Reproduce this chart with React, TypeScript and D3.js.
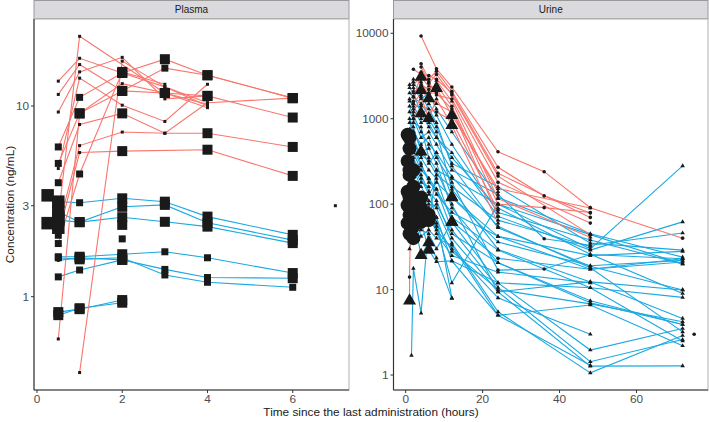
import React from "react";
import * as d3 from "d3";

// [time (h), concentration (ng/mL), size level, shape code (0 circle, 1 triangle, 2 square)]
const plasmaRed = [
  [[0.5, 13.5, 1, 2], [1, 17.8, 1, 2], [2, 14.9, 3, 2], [3, 12.6, 1, 2], [4, 10.4, 1, 2], [6, 11.0, 3, 2]],
  [[0.5, 11.5, 1, 2], [1, 16.5, 1, 2], [2, 12.0, 3, 2], [3, 11.7, 3, 2], [4, 9.8, 1, 2]],
  [[0.5, 9.3, 1, 2], [1, 15.1, 1, 2], [2, 18.0, 1, 2], [3, 10.9, 1, 2], [4, 11.3, 3, 2], [6, 8.7, 3, 2]],
  [[0.5, 6.1, 2, 2], [1, 11.1, 2, 2], [2, 14.9, 3, 2], [3, 17.6, 3, 2], [4, 14.5, 3, 2], [6, 11.0, 3, 2]],
  [[0.5, 5.0, 2, 2], [1, 9.15, 3, 2], [2, 12.0, 3, 2], [3, 15.8, 2, 2], [4, 14.5, 3, 2], [6, 11.0, 3, 2]],
  [[0.5, 4.7, 1, 2], [1, 14.0, 1, 2], [2, 10.1, 1, 2], [3, 8.3, 1, 2], [4, 13.0, 1, 2]],
  [[0.5, 3.96, 2, 2], [1, 8.0, 1, 2], [2, 9.15, 3, 2], [3, 7.2, 1, 2], [4, 7.2, 3, 2], [6, 6.1, 3, 2]],
  [[0.5, 2.6, 4, 2], [1, 23.2, 1, 2], [3, 11.7, 3, 2], [4, 10.2, 1, 2]],
  [[0.5, 2.3, 4, 2], [1, 6.2, 1, 2], [2, 7.3, 1, 2], [3, 7.2, 1, 2], [4, 10.4, 1, 2]],
  [[0.5, 2.1, 2, 2], [1, 5.7, 1, 2], [2, 5.8, 3, 2], [4, 5.9, 3, 2], [6, 4.3, 3, 2]],
  [[0.5, 0.6, 1, 2], [1, 9.15, 3, 2], [2, 13.1, 1, 2], [3, 11.7, 3, 2], [4, 11.3, 3, 2]],
  [[1, 0.4, 1, 2], [2, 17.2, 1, 2], [3, 12.6, 1, 2], [4, 10.0, 1, 2]],
  [[0.5, 1.9, 2, 2], [1, 4.4, 2, 2], [2, 15.1, 3, 2], [3, 13.0, 1, 2]],
];

const plasmaBlue = [
  [[0.25, 3.4, 4, 2], [0.5, 3.15, 4, 2], [1, 3.11, 2, 2], [2, 3.28, 3, 2], [3, 3.15, 3, 2], [4, 2.63, 3, 2], [6, 2.11, 3, 2]],
  [[0.25, 2.43, 4, 2], [0.5, 2.79, 4, 2], [1, 2.46, 3, 2], [2, 2.96, 3, 2], [3, 3.03, 3, 2], [4, 2.44, 3, 2], [6, 1.98, 3, 2]],
  [[0.5, 2.52, 4, 2], [1, 2.46, 3, 2], [2, 2.61, 3, 2], [3, 2.47, 3, 2], [4, 2.33, 3, 2], [6, 1.91, 3, 2]],
  [[0.5, 1.62, 2, 2], [1, 1.62, 3, 2], [2, 1.67, 3, 2], [3, 1.72, 2, 2], [4, 1.6, 2, 2], [6, 1.33, 3, 2]],
  [[0.5, 1.55, 1, 2], [1, 1.6, 3, 2], [2, 1.56, 3, 2], [3, 1.39, 2, 2], [4, 1.26, 2, 2], [6, 1.25, 3, 2]],
  [[0.5, 1.6, 2, 2], [1, 1.57, 3, 2], [2, 1.6, 3, 2], [3, 1.3, 2, 2], [4, 1.19, 2, 2], [6, 1.12, 2, 2]],
  [[0.5, 1.27, 2, 2], [1, 1.38, 2, 2], [2, 1.56, 3, 2]],
  [[0.5, 0.83, 3, 2], [1, 0.86, 3, 2], [2, 0.96, 3, 2]],
  [[0.5, 0.8, 3, 2], [1, 0.87, 3, 2], [2, 0.93, 3, 2]],
  [[2, 2.38, 3, 2]],
  [[2, 2.01, 2, 2]],
];

const plasmaExtra = [[7, 3, 1, 2]];

const urineRed = [
  [[4, 9300, 1, 0], [8, 3840, 1, 0], [12, 2350, 1, 0], [24, 410, 1, 0], [36, 240, 1, 0], [48, 91, 1, 0], [72, 40, 1, 0]],
  [[4, 4400, 1, 0], [6, 2900, 1, 0], [8, 3600, 1, 0], [12, 2100, 1, 0], [24, 270, 1, 0], [36, 125, 1, 0], [48, 79, 1, 0]],
  [[4, 4030, 1, 0], [6, 2600, 1, 0], [8, 3300, 1, 0], [12, 1900, 1, 0], [24, 213, 1, 0], [48, 44, 1, 0]],
  [[2, 2500, 1, 1], [4, 3070, 3, 1], [6, 2400, 1, 1], [8, 2270, 3, 1], [12, 1100, 3, 1], [24, 152, 1, 1], [48, 90, 1, 1]],
  [[2, 2100, 1, 1], [4, 2160, 3, 1], [6, 1730, 3, 1], [8, 2800, 1, 1], [12, 1600, 1, 1], [24, 116, 1, 1], [48, 41, 1, 1]],
  [[2, 1800, 1, 0], [4, 2500, 1, 0], [6, 2200, 1, 0], [8, 2500, 1, 0], [12, 1400, 1, 0], [24, 100, 1, 0], [36, 91, 1, 0], [48, 80, 1, 0]],
  [[2, 1500, 1, 0], [4, 2000, 1, 0], [6, 2000, 1, 0], [8, 2000, 1, 0], [12, 1300, 1, 0], [24, 72, 1, 0]],
  [[2, 1200, 1, 1], [4, 1800, 1, 1], [6, 1010, 3, 1], [8, 1700, 1, 1], [12, 840, 3, 1], [24, 60, 1, 1]],
  [[1, 7.4, 3, 1], [1, 14, 1, 0], [1.2, 45, 4, 0], [2, 1000, 1, 0], [4, 1400, 1, 0], [8, 1200, 1, 0], [12, 950, 1, 0], [24, 85, 1, 0]],
  [[2, 1600, 1, 0], [4, 3500, 1, 0], [6, 2700, 1, 0], [8, 1900, 1, 0], [12, 1700, 1, 0], [24, 180, 1, 0], [48, 60, 1, 0]],
  [[2, 3800, 1, 0], [4, 3300, 1, 0], [6, 3200, 1, 0], [8, 2900, 1, 0], [12, 2000, 1, 0], [24, 230, 1, 0], [48, 70, 1, 0]],
  [[2, 2900, 1, 1], [4, 2700, 1, 1], [6, 1900, 1, 1], [8, 1500, 1, 1], [12, 1200, 1, 1], [24, 140, 1, 1]],
];

const urineBlue = [
  [[1, 2500, 1, 1], [2, 2700, 1, 1], [4, 1900, 1, 1], [6, 1300, 1, 1], [8, 900, 1, 1], [12, 280, 1, 1], [24, 53, 1, 1], [48, 18.8, 1, 1], [72, 9.9, 1, 1]],
  [[1, 2300, 1, 1], [2, 2000, 1, 1], [4, 1150, 3, 1], [6, 800, 1, 1], [8, 600, 1, 1], [12, 400, 1, 1], [24, 72, 1, 1], [48, 29, 1, 1], [72, 62, 1, 1]],
  [[1, 1700, 1, 1], [2, 1300, 1, 1], [4, 900, 1, 1], [6, 1000, 1, 1], [8, 700, 1, 1], [12, 150, 1, 1], [24, 29.5, 1, 1], [48, 12.3, 1, 1], [72, 4.6, 1, 1]],
  [[1, 1400, 1, 1], [2, 1100, 1, 1], [4, 700, 1, 1], [6, 500, 1, 1], [8, 400, 1, 1], [12, 121, 3, 1], [24, 42, 1, 1], [48, 17.3, 1, 1], [72, 23, 1, 1]],
  [[1, 1000, 1, 1], [2, 800, 1, 1], [4, 410, 3, 1], [6, 450, 1, 1], [8, 300, 1, 1], [12, 90, 1, 1], [24, 20.6, 1, 1], [48, 7.4, 1, 1], [72, 3.9, 1, 1]],
  [[0.5, 650, 4, 0], [2, 600, 1, 1], [4, 350, 1, 1], [6, 250, 1, 1], [8, 200, 1, 1], [12, 62, 3, 1], [24, 12, 1, 1], [48, 1.96, 1, 1], [72, 3.5, 1, 1]],
  [[1, 450, 4, 0], [2, 500, 1, 1], [4, 300, 1, 1], [6, 180, 1, 1], [8, 150, 1, 1], [12, 50, 1, 1], [24, 10.6, 1, 1], [48, 1.43, 1, 1], [72, 2.6, 1, 1]],
  [[0.5, 320, 4, 0], [2, 350, 1, 1], [4, 220, 1, 1], [6, 140, 1, 1], [8, 110, 1, 1], [12, 40, 1, 1], [24, 9.4, 1, 1], [48, 1.27, 1, 1], [72, 1.28, 1, 1]],
  [[1, 220, 4, 0], [2, 250, 4, 0], [4, 160, 1, 1], [6, 110, 1, 1], [8, 90, 1, 1], [12, 35, 1, 1], [24, 5.5, 1, 1], [48, 1.06, 1, 1], [72, 2.9, 1, 1]],
  [[0.5, 140, 4, 0], [2, 160, 4, 0], [4, 120, 1, 1], [6, 90, 1, 1], [8, 70, 1, 1], [12, 21.7, 1, 1], [24, 5.0, 1, 1], [48, 6.6, 1, 1], [72, 2.2, 1, 1]],
  [[0.5, 97, 4, 0], [2, 110, 4, 0], [4, 90, 4, 0], [6, 75, 4, 0], [8, 55, 1, 1], [12, 12, 1, 1], [24, 100, 1, 1], [48, 44, 1, 1], [72, 20, 1, 1]],
  [[1, 75, 4, 0], [2, 70, 4, 0], [4, 25.3, 3, 1], [6, 35.5, 3, 1], [8, 23.5, 1, 1], [12, 7.9, 1, 1]],
  [[0.5, 60, 4, 0], [2, 55, 4, 0], [4, 62, 4, 0], [6, 29, 3, 1], [8, 21.2, 1, 1], [12, 21.7, 1, 1], [24, 12, 1, 1], [48, 10.5, 1, 1], [72, 8.1, 1, 1]],
  [[1.5, 1.7, 1, 1], [2, 17.7, 1, 1], [4, 5.3, 1, 1], [6, 60, 1, 1], [8, 250, 1, 1], [12, 200, 1, 1], [24, 100, 1, 1], [48, 30, 1, 1], [72, 280, 1, 1]],
  [[1, 45, 4, 0], [2, 40, 4, 0], [4, 50, 1, 1], [6, 45, 1, 1], [8, 30, 1, 1], [12, 62, 3, 1], [24, 23.2, 1, 0], [48, 17.3, 1, 1], [72, 21, 1, 1]],
  [[1, 2000, 1, 1], [2, 1800, 1, 1], [4, 1500, 1, 1], [6, 1100, 1, 1], [8, 800, 1, 1], [12, 300, 1, 1], [24, 160, 1, 1], [48, 35, 1, 1], [72, 29, 1, 1]],
  [[1, 1200, 1, 1], [2, 1000, 1, 1], [4, 600, 1, 1], [6, 700, 1, 1], [8, 500, 1, 1], [12, 250, 1, 1], [24, 130, 1, 1], [36, 39.4, 1, 0], [48, 33, 1, 1], [72, 46, 1, 1]],
  [[1, 900, 1, 1], [2, 700, 1, 1], [4, 500, 1, 1], [6, 600, 1, 1], [8, 350, 1, 1], [12, 180, 1, 1], [24, 16.9, 1, 0], [36, 17.4, 1, 0], [48, 25.7, 1, 1], [72, 23, 1, 1]],
  [[1, 750, 1, 1], [2, 900, 1, 1], [4, 800, 1, 1], [6, 350, 1, 1], [8, 250, 1, 1], [12, 100, 1, 1], [24, 9.4, 1, 1], [48, 12.3, 1, 1], [72, 9.9, 1, 1]],
  [[2, 1400, 1, 1], [4, 1000, 1, 1], [6, 1500, 1, 1], [8, 1100, 1, 1], [12, 500, 1, 1], [24, 80, 1, 1], [48, 38, 1, 1], [72, 20, 1, 1]],
  [[2, 700, 1, 1], [4, 450, 1, 1], [6, 300, 1, 1], [8, 400, 1, 1], [12, 210, 1, 1], [24, 55, 1, 1], [48, 18, 1, 1], [72, 3.2, 1, 1]],
  [[1, 550, 1, 1], [2, 450, 1, 1], [4, 280, 1, 1], [6, 200, 1, 1], [8, 150, 1, 1], [12, 70, 1, 1], [24, 29, 1, 1], [48, 10.5, 1, 1], [72, 2.5, 1, 1]],
  [[2, 300, 1, 1], [4, 200, 1, 1], [6, 130, 1, 1], [8, 180, 1, 1], [12, 120, 3, 1], [24, 36, 1, 1], [48, 19, 1, 1], [72, 22, 1, 1]],
  [[1, 180, 1, 1], [2, 120, 1, 1], [4, 75, 1, 1], [8, 100, 1, 1], [12, 45, 1, 1], [24, 20.6, 1, 1], [48, 7, 1, 1], [72, 3.9, 1, 1]],
  [[2, 85, 1, 1], [4, 42, 1, 1], [6, 50, 1, 1], [8, 40, 1, 1], [12, 33, 1, 1], [24, 5.0, 1, 1], [48, 1.3, 1, 1]],
  [[1, 30, 1, 1], [2, 45, 1, 1], [4, 60, 1, 1], [8, 70, 1, 1], [12, 8, 1, 1]],
  [[1, 600, 4, 0], [2, 400, 1, 1], [4, 250, 1, 1], [6, 200, 1, 1], [8, 130, 1, 1], [12, 80, 1, 1], [24, 42, 1, 1], [48, 25, 1, 1], [72, 28, 1, 1]],
  [[1, 250, 4, 0], [1.5, 300, 1, 1], [4, 180, 1, 1], [6, 160, 1, 1], [8, 60, 1, 1], [12, 28, 1, 1], [24, 10, 1, 1], [48, 6.8, 1, 1], [72, 4.2, 1, 1]],
  [[1.5, 140, 4, 0], [4, 120, 4, 0], [6, 100, 1, 1], [8, 45, 1, 1], [12, 25, 1, 1], [24, 16, 1, 1], [48, 12, 1, 1]],
  [[2, 2300, 1, 1], [4, 1700, 1, 1], [6, 2000, 1, 1], [8, 1300, 1, 1], [12, 700, 1, 1], [24, 120, 1, 1], [48, 45, 1, 1], [72, 24, 1, 1]],
  [[1, 1600, 1, 1], [2, 1500, 1, 1], [4, 1300, 1, 1], [6, 900, 1, 1], [8, 600, 1, 1], [12, 350, 1, 1], [24, 90, 1, 1], [48, 26, 1, 1], [72, 9, 1, 1]],
  [[2, 500, 1, 1], [4, 380, 1, 1], [6, 320, 1, 1], [8, 220, 1, 1], [12, 160, 1, 1], [24, 65, 1, 1], [48, 32, 1, 1]],
  [[1, 120, 4, 0], [2, 95, 4, 0], [6, 65, 4, 0], [8, 50, 1, 1], [12, 30, 1, 1], [24, 8, 1, 1], [48, 3, 1, 1]],
];

const urineExtra = [[75, 3, 1, 0]];

const plasmaYTicks = [1, 3, 10];
const plasmaXTicks = [0, 2, 4, 6];
const urineYTicks = [1, 10, 100, 1000, 10000];
const urineXTicks = [0, 20, 40, 60];

const RED = "#F8766D";
const BLUE = "#1AA9E1";
const FONT = "'Liberation Sans', Arial, Helvetica, sans-serif";

const squareSide = [0, 3, 7, 10, 12.5];
const circleR = [0, 1.8, 3.5, 5, 7];
const triSide = [0, 4.5, 7, 13, 15];

function Marker({ cx, cy, size, shape }) {
  const fill = "#1A1A1A";
  if (shape === 2) {
    const s = squareSide[size];
    return <rect x={cx - s / 2} y={cy - s / 2} width={s} height={s} fill={fill} />;
  }
  if (shape === 0) {
    return <circle cx={cx} cy={cy} r={circleR[size]} fill={fill} />;
  }
  const a = triSide[size];
  const h = (a * Math.sqrt(3)) / 2;
  const pts = `${cx},${cy - (2 * h) / 3} ${cx - a / 2},${cy + h / 3} ${cx + a / 2},${cy + h / 3}`;
  return <polygon points={pts} fill={fill} />;
}

function Panel({ title, x0, x1, y0, y1, xDomain, yDomain, xTicks, yTicks, red, blue, extra }) {
  const x = d3.scaleLinear().domain(xDomain).range([x0, x1]);
  const y = d3.scaleLog().domain(yDomain).range([y1, y0]);
  const line = d3
    .line()
    .x((d) => x(d[0]))
    .y((d) => y(d[1]));
  const all = [...red, ...blue].flat().concat(extra);
  return (
    <g>
      <rect x={x0} y={0.5} width={x1 - x0} height={y0 - 1} fill="#D9D9DE" stroke="#9A9A9A" strokeWidth={1} />
      <text x={(x0 + x1) / 2} y={13} textAnchor="middle" fontSize={10} fill="#1A1A1A" fontFamily={FONT}>
        {title}
      </text>
      <rect x={x0} y={y0} width={x1 - x0} height={y1 - y0} fill="#FFFFFF" stroke="#BDBDBD" strokeWidth={1.2} />
      <g>
        {blue.map((s, i) => (
          <path key={"b" + i} d={line(s)} fill="none" stroke={BLUE} strokeWidth={1.1} />
        ))}
        {red.map((s, i) => (
          <path key={"r" + i} d={line(s)} fill="none" stroke={RED} strokeWidth={1.1} />
        ))}
        {all.map((p, i) => (
          <Marker key={"p" + i} cx={x(p[0])} cy={y(p[1])} size={p[2]} shape={p[3]} />
        ))}
      </g>
      <line x1={x0} x2={x0} y1={y0} y2={y1} stroke="#333333" strokeWidth={1.1} />
      <line x1={x0} x2={x1} y1={y1} y2={y1} stroke="#333333" strokeWidth={1.1} />
      {yTicks.map((t) => (
        <g key={"yt" + t}>
          <line x1={x0 - 3} x2={x0} y1={y(t)} y2={y(t)} stroke="#333333" strokeWidth={1} />
          <text x={x0 - 5} y={y(t) + 4.2} textAnchor="end" fontSize={11.8} fill="#4D4D4D" fontFamily={FONT}>
            {t}
          </text>
        </g>
      ))}
      {xTicks.map((t) => (
        <g key={"xt" + t}>
          <line x1={x(t)} x2={x(t)} y1={y1} y2={y1 + 3} stroke="#333333" strokeWidth={1} />
          <text x={x(t)} y={y1 + 13} textAnchor="middle" fontSize={11.8} fill="#4D4D4D" fontFamily={FONT}>
            {t}
          </text>
        </g>
      ))}
    </g>
  );
}

export default function App() {
  return (
    <svg width={709} height={422} style={{ position: "absolute", left: 0, top: 0, background: "#fff" }}>
      <rect width={709} height={422} fill="#FFFFFF" />
      <Panel
        title="Plasma"
        x0={34}
        x1={349}
        y0={19}
        y1={390}
        xDomain={[-0.07, 7.32]}
        yDomain={[0.324, 28.6]}
        xTicks={plasmaXTicks}
        yTicks={plasmaYTicks}
        red={plasmaRed}
        blue={plasmaBlue}
        extra={plasmaExtra}
      />
      <Panel
        title="Urine"
        x0={393.5}
        x1={708}
        y0={19}
        y1={390}
        xDomain={[-3.17, 78.6]}
        yDomain={[0.668, 14700]}
        xTicks={urineXTicks}
        yTicks={urineYTicks}
        red={urineRed}
        blue={urineBlue}
        extra={urineExtra}
      />
      <text x={371} y={416} textAnchor="middle" fontSize={11.8} fill="#1A1A1A" fontFamily={FONT}>
        Time since the last administration (hours)
      </text>
      <text
        transform="translate(14,204.5) rotate(-90)"
        textAnchor="middle"
        fontSize={11.8}
        fill="#1A1A1A"
        fontFamily={FONT}
      >
        Concentration (ng/mL)
      </text>
    </svg>
  );
}
